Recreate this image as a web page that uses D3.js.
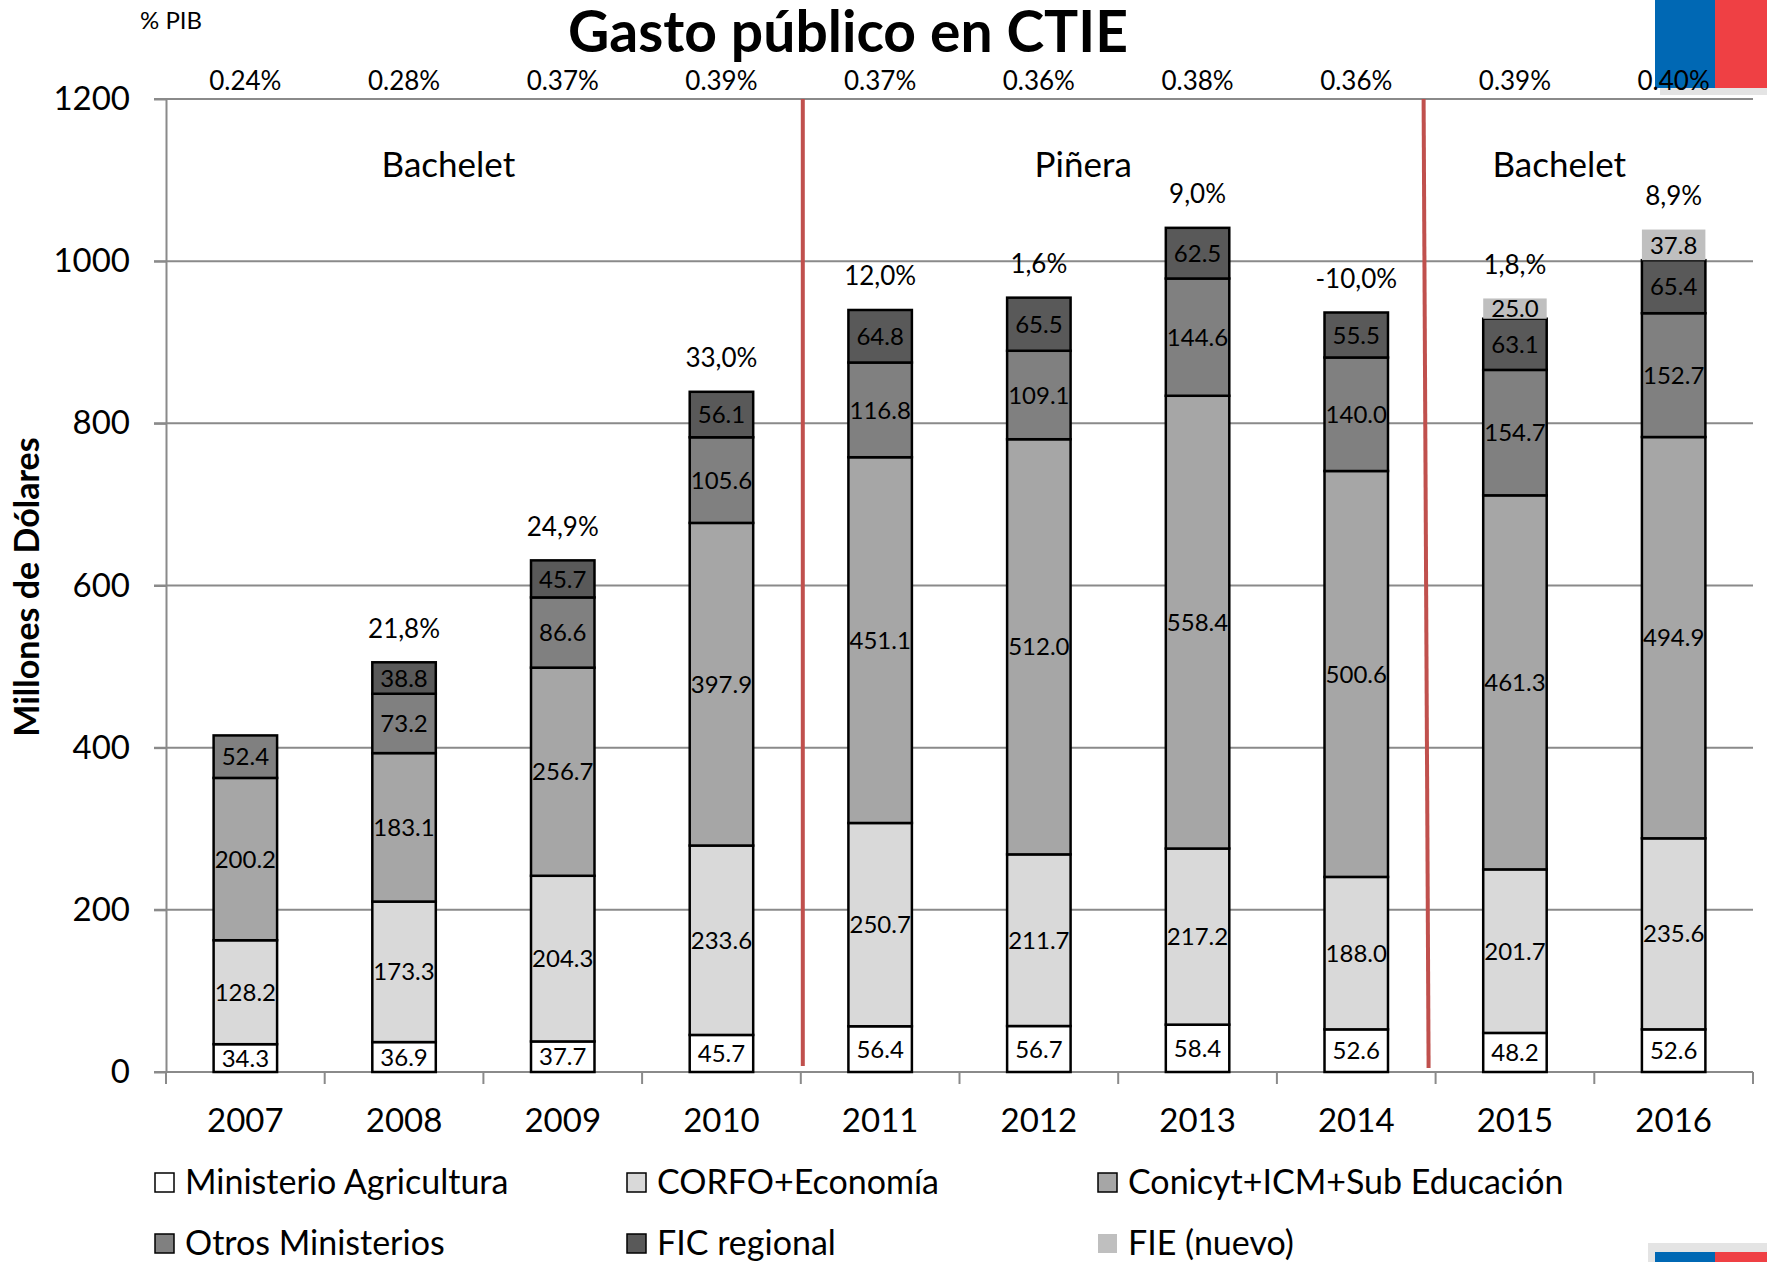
<!DOCTYPE html>
<html>
<head>
<meta charset="utf-8">
<script src="https://cdn.jsdelivr.net/npm/d3@7"></script>
<style>
  body { margin: 0; background: #fff; }
  svg text { font-family: Lato, "Open Sans", sans-serif; fill: #000; }
</style>
</head>
<body>
<svg id="chart" width="1767" height="1262"></svg>
<script>
// datos (millones de dólares)
var years = ["2007","2008","2009","2010","2011","2012","2013","2014","2015","2016"];
var agricultura = [34.3, 36.9, 37.7, 45.7, 56.4, 56.7, 58.4, 52.6, 48.2, 52.6];
var corfo       = [128.2, 173.3, 204.3, 233.6, 250.7, 211.7, 217.2, 188.0, 201.7, 235.6];
var conicyt     = [200.2, 183.1, 256.7, 397.9, 451.1, 512.0, 558.4, 500.6, 461.3, 494.9];
var otros       = [52.4, 73.2, 86.6, 105.6, 116.8, 109.1, 144.6, 140.0, 154.7, 152.7];
var fic         = [0, 38.8, 45.7, 56.1, 64.8, 65.5, 62.5, 55.5, 63.1, 65.4];
var fie         = [0, 0, 0, 0, 0, 0, 0, 0, 25.0, 37.8];
var pibLabels    = ["0.24%","0.28%","0.37%","0.39%","0.37%","0.36%","0.38%","0.36%","0.39%","0.40%"];
var growthLabels = ["", "21,8%", "24,9%", "33,0%", "12,0%", "1,6%", "9,0%", "-10,0%", "1,8,%", "8,9%"];
var yTicks = [0, 200, 400, 600, 800, 1000, 1200];
var seriesNames = ["Ministerio Agricultura","CORFO+Economía","Conicyt+ICM+Sub Educación","Otros Ministerios","FIC regional","FIE (nuevo)"];
var periods = [["Bachelet","2007","2010"],["Piñera","2011","2014"],["Bachelet","2015","2016"]];

var keys = ["agr","corfo","conicyt","otros","fic","fie"];
var colors = ["#ffffff","#d9d9d9","#a6a6a6","#808080","#595959","#bfbfbf"];
var rows = years.map(function(y, i){
	return {year: y, agr: agricultura[i], corfo: corfo[i], conicyt: conicyt[i], otros: otros[i], fic: fic[i], fie: fie[i]};
});

var svg = d3.select("#chart");
var plotLeft = 166, plotRight = 1753, plotTop = 99, plotBottom = 1072;

var x = d3.scaleBand().domain(years).range([plotLeft, plotRight]).paddingInner(0.6).paddingOuter(0.3);
var y = d3.scaleLinear().domain([0, 1200]).range([plotBottom, plotTop]);
var step = x.step();
function boundary(i){ return plotLeft + i * step; }

// logos (debajo del texto)
svg.append("rect").attr("x", 1660).attr("y", 0).attr("width", 107).attr("height", 95).attr("fill", "#e4e4e4");
svg.append("rect").attr("x", 1655).attr("y", 0).attr("width", 60).attr("height", 88).attr("fill", "#0068b4");
svg.append("rect").attr("x", 1715).attr("y", 0).attr("width", 52).attr("height", 88).attr("fill", "#ef4044");
svg.append("rect").attr("x", 1648).attr("y", 1243).attr("width", 119).attr("height", 19).attr("fill", "#e4e4e4");
svg.append("rect").attr("x", 1655).attr("y", 1252).attr("width", 60).attr("height", 10).attr("fill", "#0068b4");
svg.append("rect").attr("x", 1715).attr("y", 1252).attr("width", 52).attr("height", 10).attr("fill", "#ef4044");

// lineas de grilla
svg.append("g").selectAll("line").data(yTicks).enter().append("line")
	.attr("x1", plotLeft - 12).attr("x2", plotRight)
	.attr("y1", function(d){ return y(d); }).attr("y2", function(d){ return y(d); })
	.attr("stroke", "#8a8a8a").attr("stroke-width", 2);

// eje Y
var yAxis = svg.append("g").attr("transform", "translate(" + plotLeft + ",0)")
	.call(d3.axisLeft(y).tickValues(yTicks).tickFormat(d3.format("d")).tickSizeInner(12).tickSizeOuter(0).tickPadding(24));
yAxis.select(".domain").attr("stroke", "#8a8a8a").attr("stroke-width", 2);
yAxis.selectAll(".tick line").attr("stroke", "#8a8a8a").attr("stroke-width", 2);
yAxis.selectAll("text").style("font-size", "33px").attr("font-family", null);

// marcas del eje X en los limites
svg.append("g").selectAll("line").data(d3.range(years.length + 1)).enter().append("line")
	.attr("x1", boundary).attr("x2", boundary)
	.attr("y1", plotBottom).attr("y2", plotBottom + 12)
	.attr("stroke", "#8a8a8a").attr("stroke-width", 2);

var xAxis = svg.append("g").attr("transform", "translate(0," + plotBottom + ")")
	.call(d3.axisBottom(x).tickSize(0).tickPadding(37));
xAxis.select(".domain").remove();
xAxis.selectAll("text").style("font-size", "33px").attr("font-family", null);

// barras apiladas
var stack = d3.stack().keys(keys)(rows);
var layers = svg.append("g").selectAll("g").data(stack).enter().append("g")
	.attr("fill", function(d, i){ return colors[i]; });

layers.selectAll("rect").data(function(d){ return d.filter(function(s){ return s[1] - s[0] > 0; }); })
	.enter().append("rect")
	.attr("x", function(d){ return x(d.data.year); })
	.attr("width", x.bandwidth())
	.attr("y", function(d){ return y(d[1]); })
	.attr("height", function(d){ return y(d[0]) - y(d[1]); })
	.attr("stroke", function(){ return this.parentNode.__data__.key === "fie" ? "none" : "#000"; })
	.attr("stroke-width", 2.5);

layers.selectAll("text").data(function(d){ return d.filter(function(s){ return s[1] - s[0] > 0; }); })
	.enter().append("text")
	.attr("x", function(d){ return x(d.data.year) + x.bandwidth() / 2; })
	.attr("y", function(d){ return (y(d[0]) + y(d[1])) / 2; })
	.attr("dy", "0.36em")
	.attr("text-anchor", "middle")
	.style("font-size", "24px")
	.text(function(d){ return d3.format(".1f")(d[1] - d[0]); });

// crecimiento sobre las barras
var totals = rows.map(function(r){ return d3.sum(keys, function(k){ return r[k]; }); });
svg.append("g").selectAll("text").data(years).enter().append("text")
	.attr("x", function(d){ return x(d) + x.bandwidth() / 2; })
	.attr("y", function(d, i){ return y(totals[i]) - 34; })
	.attr("dy", "0.36em")
	.attr("text-anchor", "middle")
	.style("font-size", "26px")
	.text(function(d, i){ return growthLabels[i]; });

// % PIB
svg.append("g").selectAll("text").data(years).enter().append("text")
	.attr("x", function(d){ return x(d) + x.bandwidth() / 2; })
	.attr("y", 81)
	.attr("dy", "0.36em")
	.attr("text-anchor", "middle")
	.style("font-size", "26px")
	.text(function(d, i){ return pibLabels[i]; });

svg.append("text").attr("x", 140).attr("y", 29).style("font-size", "24px").text("% PIB");

// lineas rojas de cambio de gobierno
svg.append("line").attr("x1", boundary(4) + 2).attr("x2", boundary(4) + 2)
	.attr("y1", plotTop).attr("y2", plotBottom - 6)
	.attr("stroke", "#c0504d").attr("stroke-width", 4);
svg.append("line").attr("x1", boundary(8) - 12).attr("x2", boundary(8) - 7)
	.attr("y1", plotTop).attr("y2", plotBottom - 4)
	.attr("stroke", "#c0504d").attr("stroke-width", 4);

// periodos
svg.append("g").selectAll("text").data(periods).enter().append("text")
	.attr("x", function(p){ return (x(p[1]) + x(p[2]) + x.bandwidth()) / 2 - 35; })
	.attr("y", 164)
	.attr("dy", "0.36em")
	.attr("text-anchor", "middle")
	.style("font-size", "35px")
	.text(function(p){ return p[0]; });

// titulo
svg.append("text").attr("x", 848).attr("y", 52).attr("text-anchor", "middle")
	.style("font-size", "57px").style("font-weight", "bold").text("Gasto público en CTIE");

svg.append("text").attr("transform", "translate(39,587) rotate(-90)").attr("text-anchor", "middle")
	.style("font-size", "34px").style("font-weight", "bold").text("Millones de Dólares");

// leyenda
var legendX = [155, 627, 1098], legendY = [1182, 1243];
var legend = svg.append("g").selectAll("g").data(seriesNames).enter().append("g")
	.attr("transform", function(d, i){ return "translate(" + legendX[i % 3] + "," + legendY[Math.floor(i / 3)] + ")"; });
legend.append("rect").attr("x", 0).attr("y", -9).attr("width", 19).attr("height", 19)
	.attr("fill", function(d, i){ return colors[i]; })
	.attr("stroke", function(d, i){ return i === 5 ? "none" : "#000"; }).attr("stroke-width", 1.5);
legend.append("text").attr("x", 30).attr("dy", "0.36em").style("font-size", "34px").text(function(d){ return d; });
</script>
</body>
</html>
